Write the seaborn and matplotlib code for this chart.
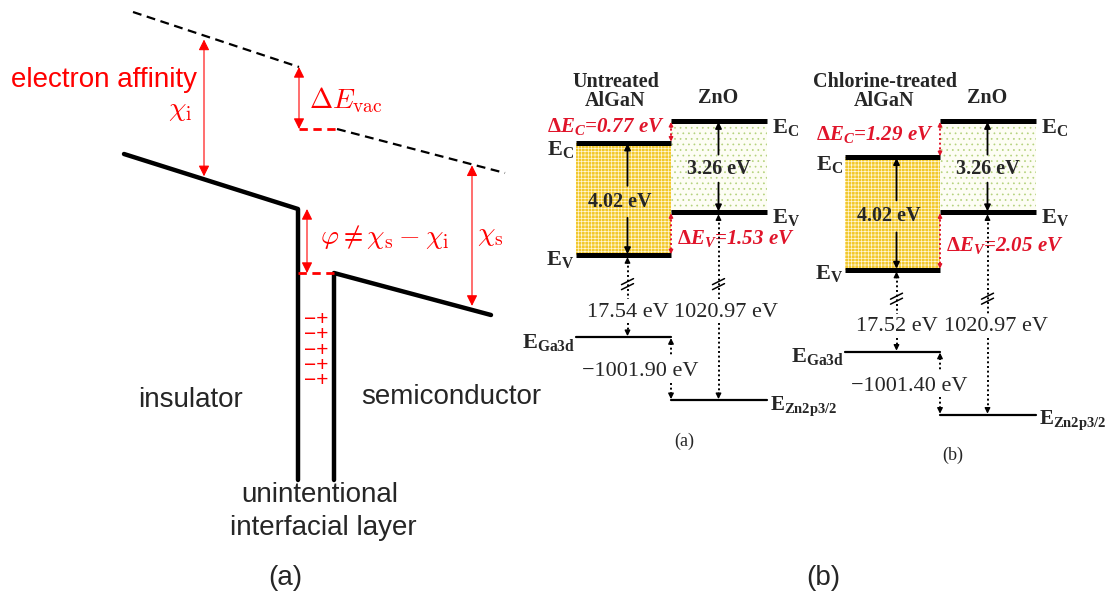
import matplotlib
matplotlib.use("Agg")
import numpy as np
import matplotlib.pyplot as plt
from matplotlib.patches import Rectangle
import seaborn as sns

# ---- panel (b): band alignment values (eV) ----
sample_titles = [["Untreated", "AlGaN"], ["Chlorine-treated", "AlGaN"]]
gap_algan = [4.02, 4.02]
gap_zno = [3.26, 3.26]
delta_ec = [0.77, 1.29]
delta_ev = [1.53, 2.05]
ga3d_to_vbm = [17.54, 17.52]
zn2p_to_vbm = [1020.97, 1020.97]
core_diff = [-1001.90, -1001.40]
sub_labels = ["(a)", "(b)"]

# ---- panel (a): schematic outline (drawing units = pixels) ----
ins_x = [124, 298, 298]
ins_y = [154, 209, 480]
semi_x = [334, 334, 491]
semi_y = [480, 273, 315]
vac_ins_x = [133, 299]
vac_ins_y = [12, 67]
vac_semi_x = [337, 505]
vac_semi_y = [129, 173]
n_dipoles = 5

sns.set_theme(style="white")
plt.rcParams["font.family"] = ["Liberation Sans", "DejaVu Sans"]
plt.rcParams["hatch.linewidth"] = 0.5
plt.rcParams["mathtext.bf"] = "Liberation Serif:bold"
plt.rcParams["mathtext.it"] = "Liberation Serif:italic:bold"
plt.rcParams["mathtext.rm"] = "Liberation Serif:bold"

RED = "#ff0000"
RED2 = "#e0142a"
SERIF = "Liberation Serif"

fig = plt.figure(figsize=(11.08, 6.02), dpi=100)
ax = fig.add_axes([0, 0, 1, 1])
ax.set_xlim(0, 1108)
ax.set_ylim(602, 0)
ax.axis("off")


def red_arrow(x, y1, y2):
    ax.annotate("", xy=(x, y2), xytext=(x, y1),
                arrowprops=dict(arrowstyle="<|-|>", color=RED, lw=0.8,
                                mutation_scale=16, shrinkA=0, shrinkB=0))


# ================= panel (a) =================
sns.lineplot(x=ins_x, y=ins_y, sort=False, estimator=None, ax=ax,
             color="black", lw=3.2)
sns.lineplot(x=semi_x, y=semi_y, sort=False, estimator=None, ax=ax,
             color="black", lw=3.2)
ax.plot(vac_ins_x, vac_ins_y, color="black", lw=1.6, dashes=(4, 2.5))
ax.plot(vac_semi_x, vac_semi_y, color="black", lw=1.6, dashes=(4, 2.5))
ax.plot([vac_ins_x[1], vac_semi_x[0]], [vac_semi_y[0]] * 2, color=RED,
        lw=2, dashes=(3, 2))
ax.plot([ins_x[1], semi_x[0]], [semi_y[1]] * 2, color=RED, lw=2,
        dashes=(3, 2))

# arrows end on the lines they span
xi = 204
red_arrow(xi, np.interp(xi, vac_ins_x, vac_ins_y) + 4,
          np.interp(xi, ins_x[:2], ins_y[:2]) - 3)
red_arrow(vac_ins_x[1], vac_ins_y[1], vac_semi_y[0])
red_arrow(307, ins_y[1], semi_y[1])
xs = 472
red_arrow(xs, np.interp(xs, vac_semi_x, vac_semi_y) + 1,
          np.interp(xs, semi_x[1:], semi_y[1:]) - 4)

# interface dipoles, one text block
ax.text(316, 350, "\n".join(["\u2212+"] * n_dipoles), color=RED,
        fontsize=15, ha="center", va="center", linespacing=0.745)

ax.text(197, 87, "electron affinity", color=RED, fontsize=20,
        ha="right", va="baseline")
ax.text(180, 110, r"$\chi_{\rm i}$", color=RED, fontsize=20,
        ha="center", va="center", math_fontfamily="cm")
ax.text(309, 100, r"$\Delta E_{\rm vac}$", color=RED, fontsize=20,
        ha="left", va="center", math_fontfamily="cm")
ax.text(385, 237, r"$\varphi \neq \chi_{\rm s} - \chi_{\rm i}$", color=RED,
        fontsize=20, ha="center", va="center", math_fontfamily="cm")
ax.text(490, 235, r"$\chi_{\rm s}$", color=RED, fontsize=20,
        ha="center", va="center", math_fontfamily="cm")

ax.text(190, 400, "insulator", fontsize=20, ha="center", va="center")
ax.text(451, 397, "semiconductor", fontsize=20, ha="center", va="center")
ax.text(320, 495, "unintentional", fontsize=20, ha="center", va="center")
ax.text(323, 528, "interfacial layer", fontsize=20, ha="center",
        va="center")
ax.text(285, 578, "(a)", fontsize=20, ha="center", va="center")
ax.text(823, 578, "(b)", fontsize=20, ha="center", va="center")

# ================= panel (b) =================
px_per_ev = 28.0
y_ref = 121          # ZnO conduction band edge
bar_w = 95
algan_x0 = [576, 845]
core_gap = 82        # broken-axis distance VBM -> Ga3d (schematic)
core_step = 63       # Ga3d -> Zn2p3/2 (schematic)


def dotted(x, y1, y2, color="black"):
    ax.plot([x, x], [y1, y2], color=color, lw=1.4, ls=(0, (1, 1.4)),
            zorder=4)


def head(x, y, up, color="black", ms=8):
    d = 6 if up else -6
    ax.annotate("", xy=(x, y), xytext=(x, y + d),
                arrowprops=dict(arrowstyle="-|>", color=color, lw=1,
                                mutation_scale=ms, shrinkA=0, shrinkB=0),
                zorder=5)


def solid_arrow(x, y1, y2):
    ax.annotate("", xy=(x, y2), xytext=(x, y1),
                arrowprops=dict(arrowstyle="-|>", color="black", lw=1.3,
                                mutation_scale=9, shrinkA=0, shrinkB=0),
                zorder=5)


def brk(x, y):
    for dy in (-2.5, 2.5):
        ax.plot([x - 6, x + 6], [y + dy + 3, y + dy - 3], color="black",
                lw=1.1, zorder=5)


for i in range(2):
    x0 = algan_x0[i]
    xb = x0 + bar_w
    x1 = xb + bar_w + 1
    zno_ec = y_ref
    zno_ev = y_ref + gap_zno[i] * px_per_ev
    al_ec = y_ref + delta_ec[i] * px_per_ev
    al_ev = al_ec + gap_algan[i] * px_per_ev
    ga3d = al_ev + core_gap
    zn2p = ga3d + core_step

    ax.add_patch(Rectangle((x0, al_ec), bar_w, al_ev - al_ec,
                           facecolor="#f2c82a", edgecolor="#fff6d8",
                           hatch="+++++", lw=0, zorder=1))
    ax.add_patch(Rectangle((xb, zno_ec), x1 - xb, zno_ev - zno_ec,
                           facecolor="#fdfdf4", edgecolor="#b4d27c",
                           hatch="...", lw=0, zorder=1))
    for (xa, xc, yy) in [(x0, xb, al_ec), (x0, xb, al_ev),
                         (xb, x1, zno_ec), (xb, x1, zno_ev)]:
        ax.plot([xa, xc], [yy, yy], color="black", lw=3.6,
                solid_capstyle="butt", zorder=3)

    # titles
    cx = x0 + bar_w / 2 - 8
    ax.text(cx, 82, sample_titles[i][0], family=SERIF, weight="bold",
            fontsize=14.5, ha="center", va="center")
    ax.text(cx, 101, sample_titles[i][1], family=SERIF, weight="bold",
            fontsize=14.5, ha="center", va="center")
    ax.text(xb + bar_w / 2, 98, "ZnO", family=SERIF, weight="bold",
            fontsize=14.5, ha="center", va="center")

    # edge labels
    lab = dict(family=SERIF, weight="bold", fontsize=16,
               math_fontfamily="custom")
    ax.text(x0 - 2, al_ec + 7, r"E$_{\mathbf{C}}$", ha="right",
            va="center", **lab)
    ax.text(x0 - 2, al_ev + 4, r"E$_{\mathbf{V}}$", ha="right",
            va="center", **lab)
    ax.text(x1 + 5, zno_ec + 6, r"E$_{\mathbf{C}}$", ha="left",
            va="center", **lab)
    ax.text(x1 + 5, zno_ev + 5, r"E$_{\mathbf{V}}$", ha="left",
            va="center", **lab)

    # gap arrows
    ax_al = x0 + bar_w / 2 + 4
    mid = (al_ec + al_ev) / 2 + 3
    solid_arrow(ax_al, mid - 16, al_ec + 1)
    solid_arrow(ax_al, mid + 16, al_ev - 1)
    ax.text(ax_al - 8, mid, f"{gap_algan[i]:.2f} eV", family=SERIF,
            weight="bold", fontsize=14.5, ha="center", va="center",
            zorder=6)
    ax_zn = xb + bar_w / 2
    mid = (zno_ec + zno_ev) / 2 + 2
    solid_arrow(ax_zn, mid - 14, zno_ec + 1)
    solid_arrow(ax_zn, mid + 14, zno_ev - 1)
    ax.text(ax_zn, mid, f"{gap_zno[i]:.2f} eV", family=SERIF,
            weight="bold", fontsize=14.5, ha="center", va="center",
            zorder=6)

    # band offsets
    for (ya, yc) in [(zno_ec, al_ec), (zno_ev, al_ev)]:
        dotted(xb, ya + 3, yc - 3, color=RED2)
        head(xb, ya + 1, True, color=RED2, ms=6)
        head(xb, yc - 1, False, color=RED2, ms=6)
    red = dict(family=SERIF, weight="bold", style="italic", fontsize=15,
               color=RED2, math_fontfamily="custom")
    ax.text(xb - 6, (zno_ec + al_ec) / 2 - 5,
            r"$\Delta$E$_{\mathit{C}}$=" + f"{delta_ec[i]:.2f} eV",
            ha="right", va="center", **red)
    ax.text(xb + 6, (zno_ev + al_ev) / 2 + 5,
            r"$\Delta$E$_{\mathit{V}}$=" + f"{delta_ev[i]:.2f} eV",
            ha="left", va="center", **red)

    # core levels
    ax.plot([x0, xb], [ga3d, ga3d], color="black", lw=1.6, zorder=3)
    ax.plot([xb, x1], [zn2p, zn2p], color="black", lw=1.6, zorder=3)
    ax.text(x0 - 1, ga3d + 5, r"E$_{\mathbf{Ga3d}}$", ha="right",
            va="center", **lab)
    ax.text(x1 + 3, zn2p + 6, r"E$_{\mathbf{Zn2p3/2}}$", ha="left",
            va="center", **dict(lab, fontsize=15))

    ly = ga3d - 25
    for xx, val, dx, yend in [(ax_al, ga3d_to_vbm[i], 0, ga3d),
                              (ax_zn, zn2p_to_vbm[i], 8, zn2p)]:
        ytop = al_ev if xx == ax_al else zno_ev
        dotted(xx, ytop + 6, ly - 13)
        head(xx, ytop + 2, True)
        brk(xx, ly - 28)
        ax.text(xx + dx, ly, f"{val:.2f} eV", family=SERIF, fontsize=16,
                ha="center", va="center")
        dotted(xx, ly + 11, yend - 5)
        head(xx, yend - 1, False)

    cy = (ga3d + zn2p) / 2 + 3
    dotted(xb, ga3d + 6, cy - 15)
    head(xb, ga3d + 1, True)
    ax.text(xb - 31, cy, f"\u2212{abs(core_diff[i]):.2f} eV", family=SERIF,
            fontsize=16, ha="center", va="center")
    dotted(xb, cy + 11, zn2p - 5)
    head(xb, zn2p - 1, False)

    ax.text(xb + 13, zn2p + 41, sub_labels[i], family=SERIF, fontsize=13,
            ha="center", va="center")

fig.savefig("out.png", dpi=100)
